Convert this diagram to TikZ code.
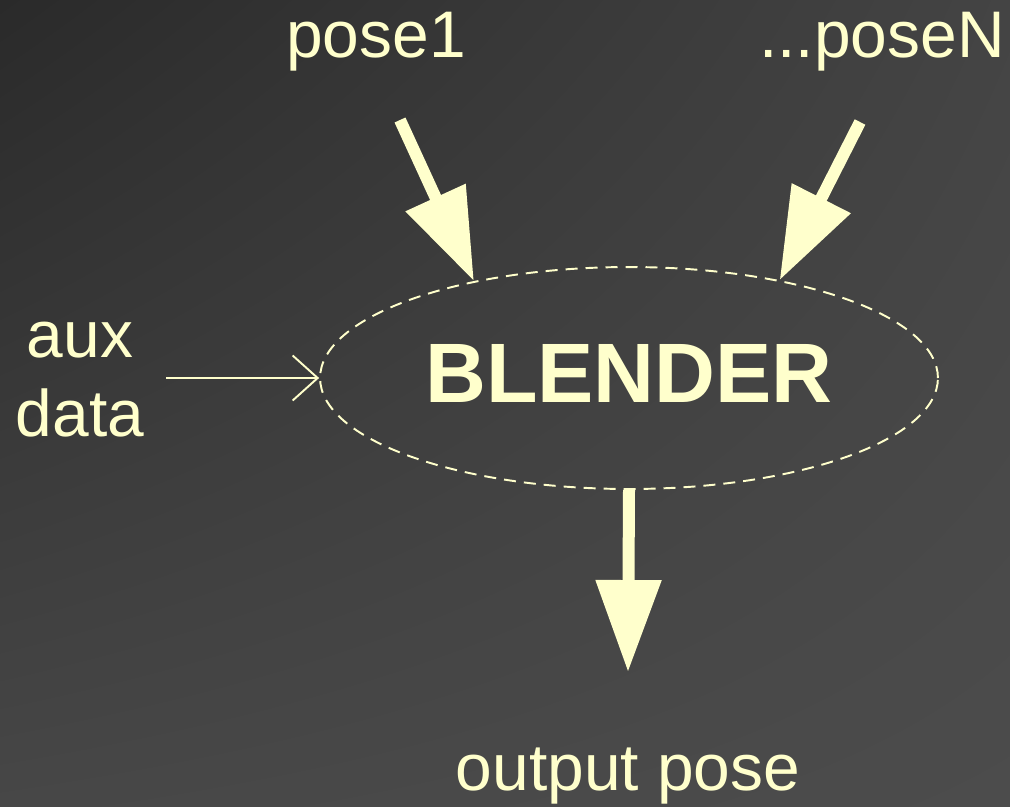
\documentclass[tikz,border=0pt]{standalone}
\usepackage{fontspec}
\setmainfont{Liberation Sans}
\usetikzlibrary{arrows.meta,shapes.geometric,shadings}
\definecolor{cream}{HTML}{FFFFCC}
\definecolor{bgtl}{HTML}{2A2A2A}
\definecolor{bgtr}{HTML}{444444}
\definecolor{bgbl}{HTML}{474747}
\definecolor{bgbr}{HTML}{4C4C4C}
\tikzset{
  label text/.style={text=cream, font=\fontsize{37.5}{45}\selectfont, align=center},
  fat arrow/.style={draw=cream, line width=0.24cm, -{Triangle[length=1.84cm, width=1.26cm]}},
  thin arrow/.style={draw=cream, line width=1.1pt, -{Straight Barb[length=0.5cm, width=0.9cm]}},
}
\begin{document}
\begin{tikzpicture}[x=0.02cm, y=-0.02cm]
      \shade[upper left=bgtl, upper right=bgtr, lower left=bgbl, lower right=bgbr]
        (0,0) rectangle (1010,806);
      \useasboundingbox (0,0) rectangle (1010,806);
      \draw
        (376,42) node[label text] (pose1){pose1}
        (882,42) node[label text] (poseN){...poseN}
        (80,380) node[label text] (aux){aux\\data}
        (628,776) node[label text] (out){output pose};
      \node[ellipse, draw=cream, line width=1.1pt, dash pattern=on 0.24cm off 0.16cm,
            minimum width=12.36cm, minimum height=4.44cm, text=cream, text depth=0.2cm,
            font=\fontsize{48}{50}\selectfont\bfseries] (blender) at (629,378) {BLENDER};
      \coordinate (s1) at (400,120);
      \coordinate (sN) at (860,122);
      \coordinate (sA) at (166,378);
      \coordinate (eO) at (628,672);
      \begin{scope}[shorten >=0pt]
        \draw[fat arrow] (s1) to (blender.148);
        \draw[fat arrow] (sN) to (blender.33);
        \draw[thin arrow] (sA) to (blender.west);
        \draw[fat arrow] (blender.south) to (eO);
      \end{scope}
\end{tikzpicture}
\end{document}
